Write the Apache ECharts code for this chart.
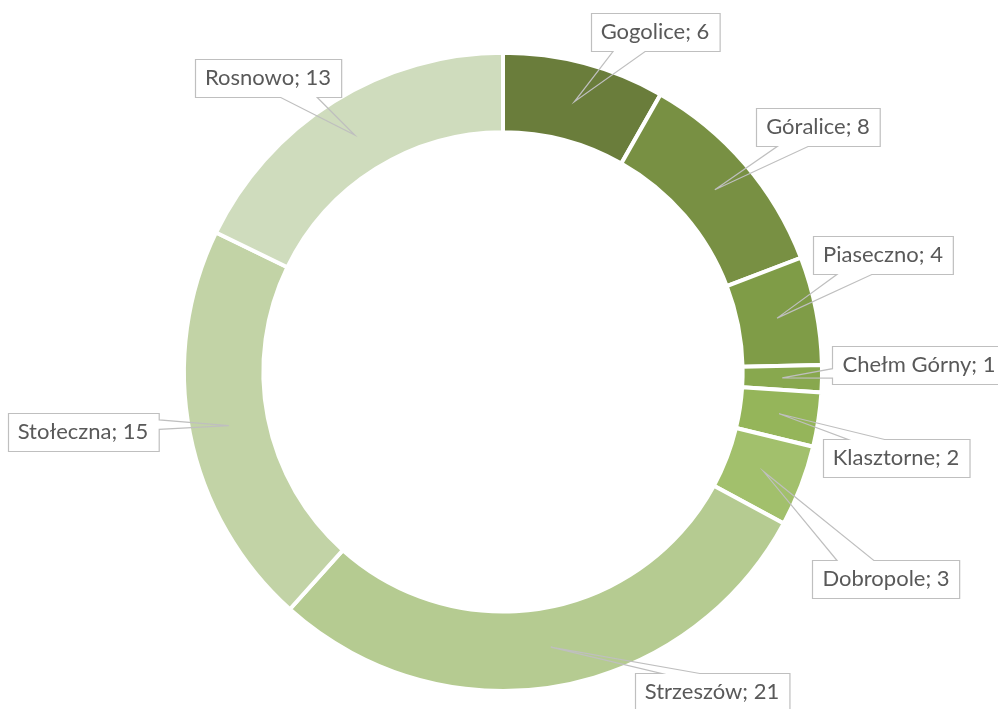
<!DOCTYPE html>
<html>
<head>
<meta charset="utf-8">
<script src="https://cdn.jsdelivr.net/npm/echarts@6/dist/echarts.min.js"></script>
<style>
  html, body { margin: 0; padding: 0; background: #ffffff; }
  #chart { width: 998px; height: 709px; }
</style>
</head>
<body>
<div id="chart"></div>
<script>
// Districts and their counts, clockwise from 12 o'clock
const districts = ['Gogolice', 'Góralice', 'Piaseczno', 'Chełm Górny', 'Klasztorne', 'Dobropole', 'Strzeszów', 'Stołeczna', 'Rosnowo'];
const counts = [6, 8, 4, 1, 2, 3, 21, 15, 13];

// Monochrome green ramp, darkest first
const sliceColors = ['#6A7D3B', '#789043', '#7F9C47', '#88A84E', '#95B55A', '#A2C06C', '#B5CB91', '#C2D3A6', '#CFDCBD'];

// Centre point of each callout box (px)
const calloutCentres = [[655, 32], [818, 127], [883, 255], [919, 365], [896, 458], [886, 579], [712, 692], [83, 432], [268, 78]];

const chart = echarts.init(document.getElementById('chart'), null, { renderer: 'canvas' });

const ringCenter = ['50.4%', '52.45%'];
const ringRadius = ['67.6%', '90%'];
const ringData = districts.map((name, k) => ({ name: name, value: counts[k] }));

// Builds a rectangular callout outline with a wedge pointing at the ring's mid-line
function calloutLayout(p) {
  const i = p.dataIndex;
  const lay = chart.getModel().getSeriesByIndex(p.seriesIndex).getData().getItemLayout(i);
  const mid = (lay.startAngle + lay.endAngle) / 2;
  const rm = (lay.r + lay.r0) / 2;
  const tip = [lay.cx + rm * Math.cos(mid), lay.cy + rm * Math.sin(mid)];

  const w = p.labelRect.width, h = p.labelRect.height;
  const bx = calloutCentres[i][0], by = calloutCentres[i][1];
  const l = Math.round(bx - w / 2) + 0.5, t = Math.round(by - h / 2) + 0.5;
  const r = l + w, b = t + h;

  const dxPos = tip[0] - bx, dyPos = tip[1] - by;
  const sideways = Math.abs(dxPos * h) > Math.abs(dyPos * w);
  const xg1 = dxPos > 0 ? 7 : 2, xg2 = dxPos > 0 ? 10 : 5;
  const yg1 = dyPos > 0 ? 7 : 2, yg2 = dyPos > 0 ? 10 : 5;

  const pts = [[l, t]];
  if (!sideways && dyPos < 0) pts.push([l + w * xg1 / 12, t], tip, [l + w * xg2 / 12, t]);
  pts.push([r, t]);
  if (sideways && dxPos > 0) pts.push([r, t + h * yg1 / 12], tip, [r, t + h * yg2 / 12]);
  pts.push([r, b]);
  if (!sideways && dyPos >= 0) pts.push([l + w * xg2 / 12, b], tip, [l + w * xg1 / 12, b]);
  pts.push([l, b]);
  if (sideways && dxPos <= 0) pts.push([l, t + h * yg2 / 12], tip, [l, t + h * yg1 / 12]);
  pts.push([l, t]);

  let x = bx;
  if (p.align === 'left') x = bx - w / 2;
  else if (p.align === 'right') x = bx + w / 2;
  let y = by;
  if (p.verticalAlign === 'top') y = by - h / 2;
  else if (p.verticalAlign === 'bottom') y = by + h / 2;

  return { x: x, y: y, labelLinePoints: pts };
}

chart.setOption({
  animation: false,
  backgroundColor: '#ffffff',
  color: sliceColors,
  series: [
    {
      // the coloured ring
      type: 'pie',
      z: 2,
      center: ringCenter,
      radius: ringRadius,
      startAngle: 90,
      clockwise: true,
      avoidLabelOverlap: false,
      itemStyle: { borderColor: '#ffffff', borderWidth: 4 },
      label: { show: false },
      labelLine: { show: false },
      emphasis: { disabled: true },
      data: ringData
    },
    {
      // callouts drawn on top of the ring
      type: 'pie',
      z: 3,
      silent: true,
      center: ringCenter,
      radius: ringRadius,
      startAngle: 90,
      clockwise: true,
      avoidLabelOverlap: false,
      itemStyle: { color: 'rgba(0,0,0,0)', borderWidth: 0 },
      label: {
        show: true,
        position: 'outside',
        formatter: '{b}; {c}',
        color: '#595959',
        fontFamily: 'Lato',
        fontSize: 22,
        lineHeight: 24,
        padding: [7, 10]
      },
      labelLine: {
        show: true,
        smooth: false,
        length: 5,
        length2: 5,
        lineStyle: { color: '#BFBFBF', width: 1.2, cap: 'square', join: 'miter' }
      },
      labelLayout: calloutLayout,
      emphasis: { disabled: true },
      data: ringData
    }
  ]
});
</script>
</body>
</html>
